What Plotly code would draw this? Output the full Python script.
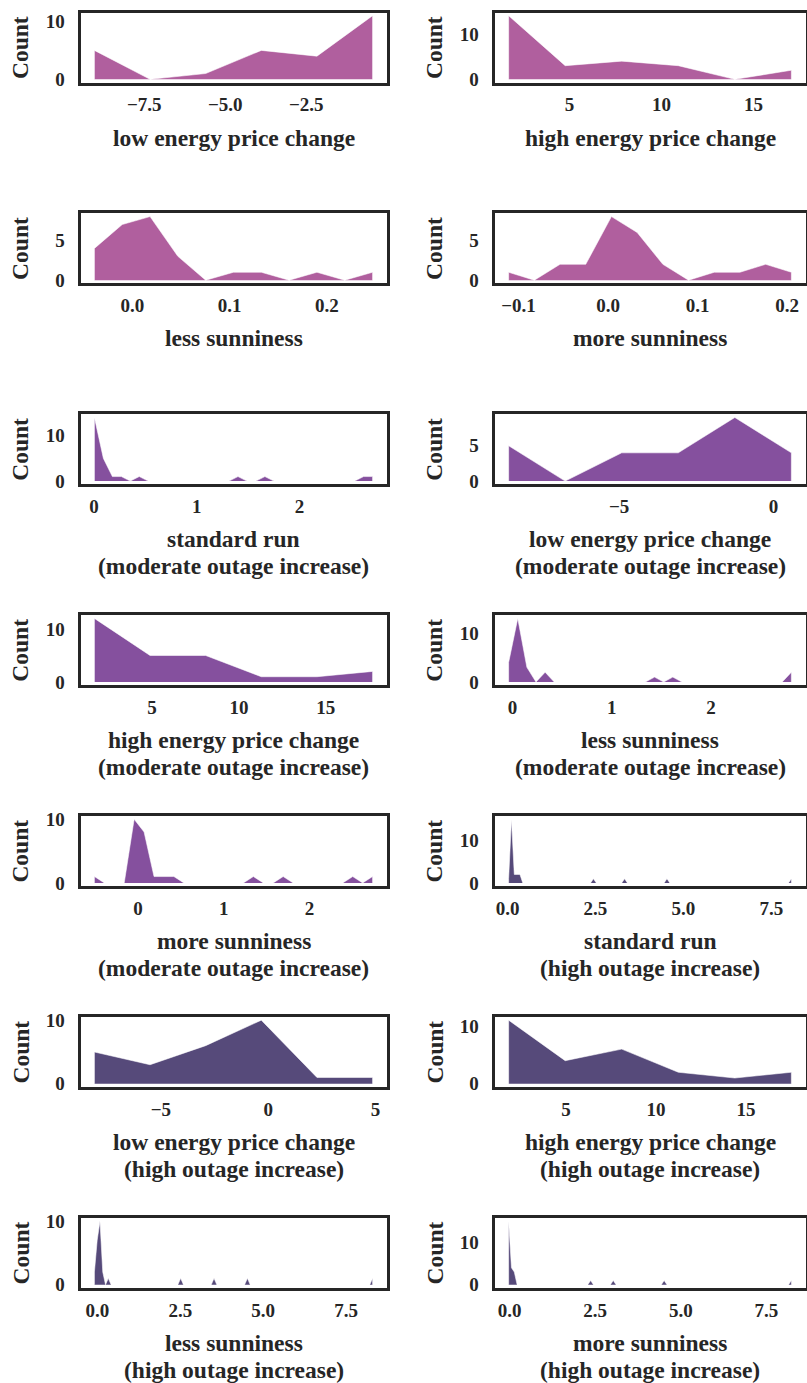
import plotly.graph_objects as go
import numpy as np

W, H = 807, 1383
FONT = "Liberation Serif"
INK = "#262626"

# colours per scenario group
COL_BASE = "#b05f9e"
COL_MOD = "#85509e"
COL_HIGH = "#564a7a"

# ---- data: histogram counts per panel (first bin centre, bin width, counts) ----
titles = [
    "low energy price change",
    "high energy price change",
    "less sunniness",
    "more sunniness",
    "standard run\n(moderate outage increase)",
    "low energy price change\n(moderate outage increase)",
    "high energy price change\n(moderate outage increase)",
    "less sunniness\n(moderate outage increase)",
    "more sunniness\n(moderate outage increase)",
    "standard run\n(high outage increase)",
    "low energy price change\n(high outage increase)",
    "high energy price change\n(high outage increase)",
    "less sunniness\n(high outage increase)",
    "more sunniness\n(high outage increase)",
]
colors = [COL_BASE] * 4 + [COL_MOD] * 5 + [COL_HIGH] * 5

first_center = [-9.04, 1.70, -0.039, -0.111, 0.005, -8.58, 1.69, -0.04, -0.51,
                0.03, -8.09, 1.82, -0.09, -0.03]
bin_width = [1.718, 3.07, 0.0286, 0.0287, 0.0873, 1.832, 3.20, 0.0919, 0.116,
             0.0804, 2.59, 3.14, 0.0839, 0.0826]
n_bins = [6, 6, 11, 12, 32, 6, 6, 32, 29, 101, 6, 6, 101, 101]

counts_low_price = [5, 0, 1, 5, 4, 11]
counts_high_price = [14, 3, 4, 3, 0, 2]
counts_less_sun = [4, 7, 8, 3, 0, 1, 1, 0, 1, 0, 1]
counts_more_sun = [1, 0, 2, 2, 8, 6, 2, 0, 1, 1, 2, 1]
# sparse panels: {bin index: count}, other bins are 0
counts_std_mod = {0: 14, 1: 5, 2: 1, 3: 1, 5: 1, 16: 1, 19: 1, 30: 1, 31: 1}
counts_low_price_mod = [5, 0, 4, 4, 9, 4]
counts_high_price_mod = [12, 5, 5, 1, 1, 2]
counts_less_sun_mod = {0: 4, 1: 13, 2: 3, 4: 2, 16: 1, 18: 1, 31: 2}
counts_more_sun_mod = {0: 1, 4: 10, 5: 8, 6: 1, 7: 1, 8: 1, 16: 1, 19: 1, 26: 1, 28: 1}
counts_std_high = {0: 1, 1: 15, 2: 2, 3: 2, 4: 2, 30: 1, 41: 1, 56: 1, 100: 1}
counts_low_price_high = [5, 3, 6, 10, 1, 1]
counts_high_price_high = [11, 4, 6, 2, 1, 2]
counts_less_sun_high = {0: 2, 1: 7, 2: 10, 3: 2, 5: 1, 31: 1, 43: 1, 55: 1, 100: 1}
counts_more_sun_high = {0: 15, 1: 4, 2: 3, 29: 1, 37: 1, 55: 1, 100: 1}

counts = [counts_low_price, counts_high_price, counts_less_sun, counts_more_sun,
          counts_std_mod, counts_low_price_mod, counts_high_price_mod,
          counts_less_sun_mod, counts_more_sun_mod, counts_std_high,
          counts_low_price_high, counts_high_price_high, counts_less_sun_high,
          counts_more_sun_high]

x_dtick = [2.5, 5, 0.1, 0.1, 1, 5, 5, 1, 1, 2.5, 5, 5, 2.5, 2.5]
x_fmt = [".1f", "d", ".1f", ".1f", "d", "d", "d", "d", "d", ".1f", "d", "d", ".1f", ".1f"]
y_dtick = [10, 10, 5, 5, 10, 5, 10, 10, 10, 10, 10, 10, 10, 10]

# ---- layout geometry (pixels) ----
col_left = [(80.5, 386.5), (494.5, 805.5)]
row_top0, row_step, row_h = 12.5, 200.9, 70
title_gap, line_gap = 40, 27

fig = go.Figure()
annotations = []
layout_axes = {}

for i in range(14):
    r, c = divmod(i, 2)
    k = i + 1
    xa = "x" if k == 1 else f"x{k}"
    ya = "y" if k == 1 else f"y{k}"
    xname = "xaxis" if k == 1 else f"xaxis{k}"
    yname = "yaxis" if k == 1 else f"yaxis{k}"

    nb = n_bins[i]
    cnt = counts[i]
    if isinstance(cnt, dict):
        vals = np.zeros(nb)
        for idx, v in cnt.items():
            vals[idx] = v
    else:
        vals = np.array(cnt, dtype=float)
    centers = first_center[i] + bin_width[i] * np.arange(nb)

    px = np.concatenate([[centers[0]], centers, [centers[-1]]])
    py = np.concatenate([[0], vals, [0]])
    fig.add_trace(go.Scatter(
        x=px, y=py, xaxis=xa, yaxis=ya, mode="lines", fill="toself",
        fillcolor=colors[i], line=dict(color="rgba(255,255,255,0.55)", width=1),
        hoverinfo="skip", showlegend=False))

    x0, x1 = centers[0], centers[-1]
    span = x1 - x0
    ymax = vals.max()

    xl, xr = col_left[c]
    top = row_top0 + row_step * r
    bot = top + row_h
    xdom = [xl / W, xr / W]
    ydom = [1 - bot / H, 1 - top / H]

    layout_axes[xname] = dict(
        domain=xdom, anchor=ya, range=[x0 - 0.05 * span, x1 + 0.05 * span],
        showline=True, mirror=True, linewidth=3, linecolor=INK,
        showgrid=False, zeroline=False, ticks="", dtick=x_dtick[i], tick0=0,
        tickformat=x_fmt[i], ticklabelstandoff=3, automargin=False,
        tickfont=dict(family=FONT, size=19, color=INK, weight="bold"))
    layout_axes[yname] = dict(
        domain=ydom, anchor=xa, range=[-0.05 * ymax, 1.05 * ymax],
        showline=True, mirror=True, linewidth=3, linecolor=INK,
        showgrid=False, zeroline=False, ticks="", dtick=y_dtick[i], tick0=0,
        ticklabelstandoff=9, automargin=False,
        tickfont=dict(family=FONT, size=19, color=INK, weight="bold"))

    for j, line in enumerate(titles[i].split("\n")):
        annotations.append(dict(
            text=line, xref="paper", yref="paper",
            x=(xdom[0] + xdom[1]) / 2, y=ydom[0], xanchor="center", yanchor="top",
            yshift=-(title_gap + j * line_gap), showarrow=False,
            font=dict(family=FONT, size=23.5, color=INK, weight="bold")))
    annotations.append(dict(
        text="Count", xref="paper", yref="paper",
        x=xdom[0], y=(ydom[0] + ydom[1]) / 2, xanchor="center", yanchor="middle",
        xshift=-60, textangle=-90, showarrow=False,
        font=dict(family=FONT, size=23.5, color=INK, weight="bold")))

fig.update_layout(
    width=W, height=H, margin=dict(l=0, r=0, t=0, b=0, autoexpand=False),
    paper_bgcolor="white", plot_bgcolor="white",
    annotations=annotations, **layout_axes)

fig.write_html("out.html")
